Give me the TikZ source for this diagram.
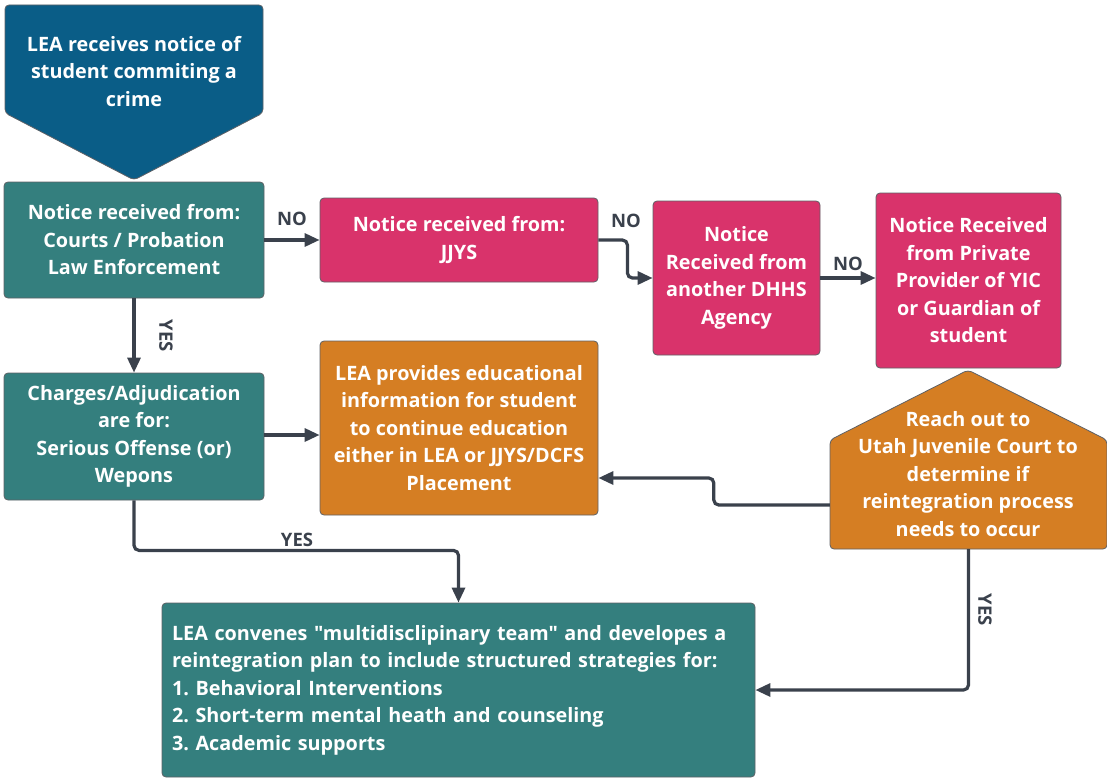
\documentclass[tikz,border=0pt]{standalone}
\usepackage{fontspec}
\setmainfont{Open Sans}[Ligatures=TeXOff]
\usetikzlibrary{arrows.meta,calc}
\definecolor{navyc}{HTML}{0A5D87}
\definecolor{tealc}{HTML}{347F7E}
\definecolor{pinkc}{HTML}{D9336B}
\definecolor{orangec}{HTML}{D57E23}
\definecolor{arrowc}{HTML}{3A414C}
\definecolor{edgec}{HTML}{5E6166}
\newcommand\myfont{\fontsize{19.8}{27.5}\selectfont\bfseries\frenchspacing}
\newcommand\lblfont{\fontsize{18.5}{20}\selectfont\bfseries}
\tikzset{
  box/.style={draw=edgec, line width=0.8pt, rounded corners=4pt, text=white, font=\myfont, align=center, inner sep=0pt},
  shapeedge/.style={draw=edgec, line width=0.8pt, rounded corners=4pt},
  txt/.style={text=white, font=\myfont, align=center, inner sep=0pt},
  arr/.style={draw=arrowc, line width=3.2pt, rounded corners=5pt, -{Triangle[length=15pt,width=13pt]}},
  lbl/.style={text=arrowc, font=\lblfont, inner sep=0pt}
}
\begin{document}
\begin{tikzpicture}[x=1pt,y=-1pt]
\useasboundingbox (0,0) rectangle (1107,778);
% top pentagon
\filldraw[shapeedge, fill=navyc] (5,5) -- (263,5) -- (263,113) -- (134,180) -- (5,113) -- cycle;
\node[txt] (S) at (134,71.5) {LEA receives notice of\\student commiting a\\crime};
% boxes
\node[box, fill=tealc, minimum width=260pt, minimum height=116pt] (A) at (134,240) {Notice received from:\\Courts / Probation\\Law Enforcement};
\node[box, fill=pinkc, minimum width=278pt, minimum height=84pt] (B) at (459,240) {Notice received from:\\JJYS};
\node[box, fill=pinkc, minimum width=167pt, minimum height=154pt] (C) at (736.5,278) {Notice\\Received from\\another DHHS\\Agency};
\node[box, fill=pinkc, minimum width=185pt, minimum height=175pt] (D) at (968.5,280.5) {Notice Received\\from Private\\Provider of YIC\\or Guardian of\\student};
\node[box, fill=tealc, minimum width=260pt, minimum height=127pt] (E) at (134,436.5) {Charges/Adjudication\\are for:\\Serious Offense (or)\\Wepons};
\node[box, fill=orangec, minimum width=278pt, minimum height=174pt] (F) at (459,428) {LEA provides educational\\information for student\\to continue education\\either in LEA or JJYS/DCFS\\Placement};
% house pentagon
\filldraw[shapeedge, fill=orangec] (968,370) -- (1107,440) -- (1107,549) -- (830,549) -- (830,440) -- cycle;
\node[inner sep=0pt, minimum width=277pt, minimum height=109pt] (G) at (968.5,494.5) {};
\node[txt] (Gt) at (968,474) {Reach out to\\Utah Juvenile Court to\\determine if\\reintegration process\\needs to occur};
\node[box, fill=tealc, minimum width=593pt, minimum height=174pt, text width=573pt, align=left] (H) at (458.5,690) {LEA convenes "multidisclipinary team" and developes a\\reintegration plan to include structured strategies for:\\1. Behavioral Interventions\\2. Short-term mental heath and counseling\\3. Academic supports};
% connectors
\draw[arr] (A.east) -- (B.west);
\node[lbl] at (292,219) {NO};
\draw[arr] (B.east) -- ++(29,0) |- (C.west);
\node[lbl] at (626,221) {NO};
\draw[arr] (C.east) -- (C.east -| D.west);
\node[lbl] at (848,264) {NO};
\draw[arr] (A.south) -- (E.north);
\node[lbl, rotate=-90] at (166,336) {YES};
\draw[arr] (E.east |- 0,435) -- (F.west |- 0,435);
\draw[arr] ([yshift=-10.5pt]G.west) -- ++(-116,0) |- ([yshift=-50pt]F.east);
\draw[arr] (E.south) -- ++(0,50) -| (H.north);
\node[lbl] at (297,540) {YES};
\draw[arr] (G.south) |- (H.east);
\node[lbl, rotate=-90] at (985,610) {YES};
\end{tikzpicture}
\end{document}
